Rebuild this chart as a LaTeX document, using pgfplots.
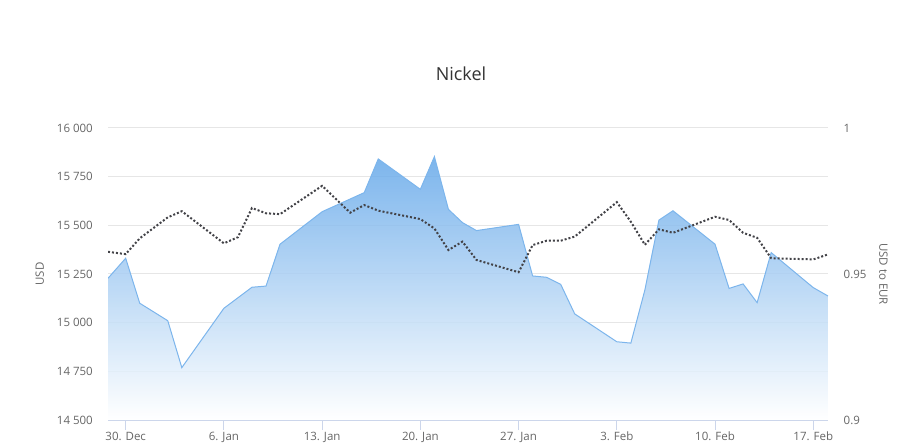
\documentclass[border=0pt]{standalone}
\usepackage{fontspec}
\setmainfont{Open Sans}
\usepackage{pgfplots}
\pgfplotsset{compat=1.18}
\definecolor{cgrid}{HTML}{E6E6E6}
\definecolor{caxis}{HTML}{CCD6EB}
\definecolor{clabel}{HTML}{666666}
\definecolor{ctitle}{HTML}{333333}
\definecolor{cblue}{HTML}{7CB5EC}
\definecolor{cbluetop}{RGB}{101,168,233}
\definecolor{cdot}{HTML}{434348}
\begin{document}
\begin{tikzpicture}
\path[use as bounding box] (0,0) rectangle (901bp,444bp);
\begin{axis}[
  at={(108bp,24bp)}, anchor=south west,
  scale only axis, width=720bp, height=292bp,
  xmin=-1.26, xmax=50.05, ymin=14500, ymax=16000,
  scaled y ticks=false, scaled x ticks=false,
  axis x line*=bottom, axis y line*=left,
  x axis line style={draw=caxis, line width=1bp, -},
  y axis line style={draw=none},
  xtick={0,7,14,21,28,35,42,49},
  xticklabels={30. Dec,6. Jan,13. Jan,20. Jan,27. Jan,3. Feb,10. Feb,17. Feb},
  xtick align=outside,
  x tick style={draw=caxis, line width=1bp},
  major tick length=10bp,
  ytick={14500,14750,15000,15250,15500,15750,16000},
  yticklabels={14 500,14 750,15 000,15 250,15 500,15 750,16 000},
  ytick align=inside,
  y tick style={draw=none},
  ymajorgrids, grid style={draw=cgrid, line width=1bp},
  tick label style={font=\fontsize{11.5bp}{13bp}\selectfont, text=clabel, inner sep=0pt},
  xticklabel style={anchor=north, yshift=-1.5bp},
  yticklabel style={anchor=east, xshift=-15bp},
  title={Nickel},
  every axis title/.style={at={(axis description cs:0.4903,1.161)}, anchor=base, font=\fontsize{18bp}{22bp}\selectfont, text=ctitle, inner sep=0pt},
  ylabel={USD},
  every axis y label/.style={at={(axis description cs:-0.0889,0.5)}, rotate=90, anchor=base, font=\fontsize{11.5bp}{13bp}\selectfont, text=clabel, inner sep=0pt},
]
\addplot[draw=none, top color=cbluetop, bottom color=white, fill opacity=0.85] coordinates {
(-1.26,15228)
(0,15331)
(1,15100)
(3,15010)
(4,14769)
(7,15074)
(8,15128)
(9,15182)
(10,15188)
(11,15403)
(14,15570)
(17,15668)
(18,15841)
(21,15685)
(22,15853)
(23,15582)
(24,15514)
(25,15473)
(28,15505)
(29,15240)
(30,15233)
(31,15197)
(32,15045)
(35,14902)
(36,14895)
(37,15168)
(38,15527)
(39,15575)
(42,15403)
(43,15176)
(44,15199)
(45,15103)
(46,15360)
(49,15180)
(50.05,15137)
(50.05,14500)
(-1.26,14500)
} -- cycle;
\addplot[cblue, line width=1bp] coordinates {
(-1.26,15228)
(0,15331)
(1,15100)
(3,15010)
(4,14769)
(7,15074)
(8,15128)
(9,15182)
(10,15188)
(11,15403)
(14,15570)
(17,15668)
(18,15841)
(21,15685)
(22,15853)
(23,15582)
(24,15514)
(25,15473)
(28,15505)
(29,15240)
(30,15233)
(31,15197)
(32,15045)
(35,14902)
(36,14895)
(37,15168)
(38,15527)
(39,15575)
(42,15403)
(43,15176)
(44,15199)
(45,15103)
(46,15360)
(49,15180)
(50.05,15137)
};
\end{axis}
\begin{axis}[
  at={(108bp,24bp)}, anchor=south west,
  scale only axis, width=720bp, height=292bp,
  xmin=-1.26, xmax=50.05, ymin=0.9, ymax=1,
  scaled y ticks=false,
  axis x line=none,
  axis y line*=right,
  y axis line style={draw=none},
  ytick={0.9,0.95,1}, yticklabels={0.9,0.95,1},
  y tick style={draw=none},
  tick label style={font=\fontsize{11.5bp}{13bp}\selectfont, text=clabel, inner sep=0pt},
  yticklabel style={anchor=west, xshift=15.5bp},
  ylabel={USD to EUR},
  every axis y label/.style={at={(axis description cs:1.0713,0.5)}, rotate=-90, anchor=base, font=\fontsize{11.5bp}{13bp}\selectfont, text=clabel, inner sep=0pt},
]
\addplot[cdot, line width=2bp, dash pattern=on 2bp off 2bp, line cap=butt] coordinates {
(-1.26,0.9576)
(0,0.9568)
(1,0.9622)
(3,0.9694)
(4,0.9715)
(7,0.9605)
(8,0.9626)
(9,0.9726)
(10,0.9708)
(11,0.9705)
(14,0.9802)
(16,0.9710)
(17,0.9736)
(18,0.9717)
(21,0.9688)
(22,0.9656)
(23,0.9582)
(24,0.9611)
(25,0.9548)
(28,0.9506)
(29,0.9599)
(30,0.9614)
(31,0.9614)
(32,0.9628)
(35,0.9746)
(36,0.9679)
(37,0.9600)
(38,0.9653)
(39,0.9641)
(42,0.9696)
(43,0.9685)
(44,0.9641)
(45,0.9624)
(46,0.9554)
(49,0.9550)
(50.05,0.9567)
};
\end{axis}
\end{tikzpicture}
\end{document}
